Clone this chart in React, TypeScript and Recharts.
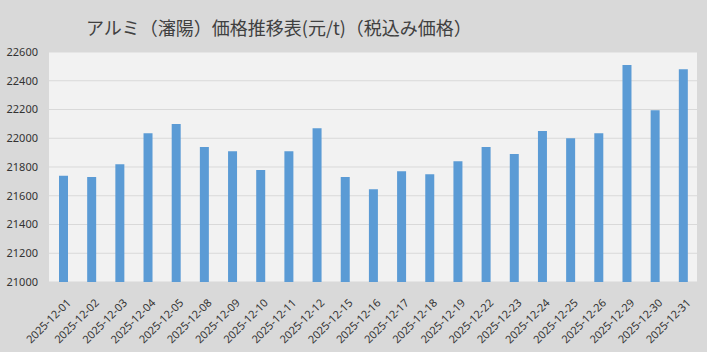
import { Bar, BarChart, CartesianGrid, XAxis, YAxis } from 'recharts'

const dates = [
  '2025-12-01', '2025-12-02', '2025-12-03', '2025-12-04', '2025-12-05',
  '2025-12-08', '2025-12-09', '2025-12-10', '2025-12-11', '2025-12-12',
  '2025-12-15', '2025-12-16', '2025-12-17', '2025-12-18', '2025-12-19',
  '2025-12-22', '2025-12-23', '2025-12-24', '2025-12-25', '2025-12-26',
  '2025-12-29', '2025-12-30', '2025-12-31',
]

const prices = [
  21740, 21730, 21820, 22035, 22100,
  21940, 21910, 21780, 21910, 22070,
  21730, 21645, 21770, 21750, 21840,
  21940, 21890, 22050, 22000, 22035,
  22510, 22195, 22480,
]

const yTicks = [21000, 21200, 21400, 21600, 21800, 22000, 22200, 22400, 22600]

const title = 'アルミ（瀋陽）価格推移表(元/t)（税込み価格）'

const data = dates.map((date, i) => ({ date, price: prices[i] }))

const tickFont = '"Noto Sans", sans-serif'

export default function App() {
  return (
    <div
      style={{
        position: 'absolute',
        left: 0,
        top: 0,
        width: 707,
        height: 352,
        background: '#d9d9d9',
        overflow: 'hidden',
      }}
    >
      <div
        style={{
          position: 'absolute',
          left: 86,
          top: 13,
          fontSize: 18,
          color: '#404040',
          fontFamily: '"Noto Sans CJK JP", sans-serif',
          whiteSpace: 'nowrap',
          lineHeight: '28px',
        }}
      >
        {title}
      </div>
      <BarChart
        width={707}
        height={352}
        data={data}
        margin={{ top: 52, right: 10, bottom: 0, left: 0 }}
      >
        <CartesianGrid vertical={false} stroke="#d9d9d9" fill="#f2f2f2" />
        <XAxis
          dataKey="date"
          interval={0}
          axisLine={false}
          tickLine={false}
          angle={-45}
          textAnchor="end"
          height={70}
          tick={{ fontSize: 11, fill: '#333333', fontFamily: tickFont }}
          tickMargin={10}
          dx={3}
        />
        <YAxis
          domain={[21000, 22600]}
          ticks={yTicks}
          axisLine={false}
          tickLine={false}
          width={49}
          tick={{ fontSize: 11, fill: '#333333', fontFamily: tickFont }}
          dx={-3}
        />
        <Bar dataKey="price" fill="#5b9bd5" barSize={9} isAnimationActive={false} />
      </BarChart>
    </div>
  )
}
